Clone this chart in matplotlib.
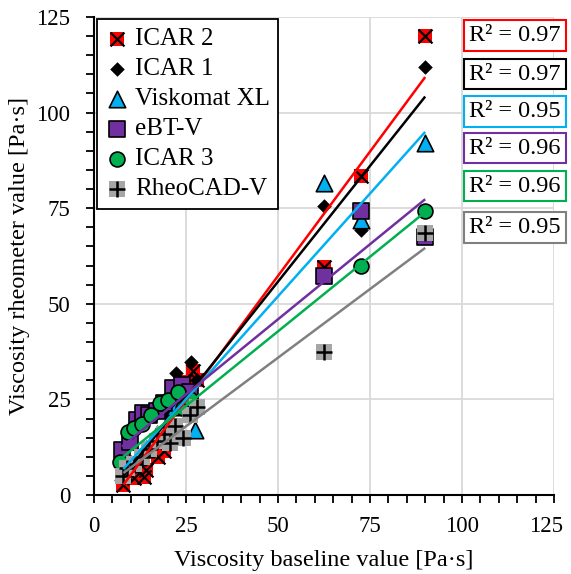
import matplotlib
matplotlib.use("Agg")
import matplotlib.pyplot as plt
import matplotlib.transforms as mtransforms
import numpy as np

plt.rcParams['font.family'] = ['Liberation Serif', 'DejaVu Serif']

# ---- data ----
names = ["ICAR 2", "ICAR 1", "Viskomat XL", "eBT-V", "ICAR 3", "RheoCAD-V"]

icar2_x = [8, 11, 13.5, 14, 17.5, 19, 21.5, 24.5, 26, 27, 28, 62.5, 72.5, 90]
icar2_y = [2.6, 4.4, 4.8, 6.5, 10, 11.5, 15, 29.5, 27, 32.5, 30, 59.5, 83.5, 120]

icar1_x = [8, 10, 12, 14, 17, 20, 22.3, 24, 26.4, 28, 62.5, 72.5, 90]
icar1_y = [5, 7, 9, 12, 16, 21, 31.9, 26, 34.8, 30, 75.6, 69.3, 112]

visko_x = [8, 10, 12, 14, 17, 20, 22, 25, 27.5, 62.5, 72.5, 90]
visko_y = [6, 8, 10, 12, 16, 19, 23, 27, 17, 81.6, 71.9, 92]

ebt_x = [7.6, 9.8, 11.6, 13.4, 15, 17, 19, 21.5, 23.9, 26, 62.5, 72.5, 90]
ebt_y = [11.8, 13.9, 19.6, 21.4, 21, 22, 24, 28, 28.8, 27, 57.3, 74.3, 67.5]

icar3_x = [7.1, 9.3, 11, 13, 15.5, 17.9, 20.1, 21.5, 22.8, 24.2, 26, 72.5, 90]
icar3_y = [8.6, 16.5, 17.5, 18.5, 21, 24, 24.8, 16.5, 27, 22.7, 25, 59.9, 74.3]

rheo_x = [8, 9, 11, 13, 15, 17, 19, 20.7, 22, 24.2, 26, 28, 62.5, 90]
rheo_y = [5, 7, 8, 10, 12, 14, 16, 13.6, 18, 14.9, 21, 23, 37.4, 68.5]

# linear trendlines (slope, intercept)
trend_slope = [1.30, 1.21, 1.075, 0.785, 0.78, 0.718]
trend_icept = [-7.7, -4.7, -1.8, 6.7, 3.8, 0.0]
r2_labels = ["0.97", "0.97", "0.95", "0.96", "0.96", "0.95"]

xs = [icar2_x, icar1_x, visko_x, ebt_x, icar3_x, rheo_x]
ys = [icar2_y, icar1_y, visko_y, ebt_y, icar3_y, rheo_y]
colors = ["#ff0000", "#000000", "#00b0f0", "#7030a0", "#00b050", "#808080"]

fig = plt.figure(figsize=(5.71, 5.74), dpi=100)
ax = fig.add_axes([94/571, 1-495/574, (554-94)/571, (495-17)/574])

handles = []
# ICAR 2: red square with black x
h1 = ax.scatter(icar2_x, icar2_y, marker='s', s=115, c='#ff0000', linewidths=0, zorder=3)
h1b = ax.scatter(icar2_x, icar2_y, marker='x', s=100, c='black', linewidths=1.6, zorder=3.1)
handles.append((h1, h1b))
# ICAR 1: black diamond
h2 = ax.scatter(icar1_x, icar1_y, marker='D', s=55, c='black', linewidths=0, zorder=3.2)
handles.append(h2)
# Viskomat XL: cyan triangle
h3 = ax.scatter(visko_x, visko_y, marker='^', s=140, c='#00b0f0', edgecolors='black', linewidths=1.2, zorder=3.3)
handles.append(h3)
# eBT-V: purple square
h4 = ax.scatter(ebt_x, ebt_y, marker='s', s=120, c='#7030a0', edgecolors='black', linewidths=1.2, zorder=3.4)
handles.append(h4)
# ICAR 3: green circle
h5 = ax.scatter(icar3_x, icar3_y, marker='o', s=115, c='#00b050', edgecolors='black', linewidths=1.2, zorder=3.5)
handles.append(h5)
# RheoCAD-V: gray square with black plus
h6 = ax.scatter(rheo_x, rheo_y, marker='s', s=120, c='#a6a6a6', linewidths=0, zorder=3.6)
h6b = ax.scatter(rheo_x, rheo_y, marker='+', s=120, c='black', linewidths=1.8, zorder=3.7)
handles.append((h6, h6b))

# trendlines
for x, m, b, col in zip(xs, trend_slope, trend_icept, colors):
    xx = np.array([min(x), max(x)])
    ax.plot(xx, m * xx + b, color=col, lw=1.8, zorder=4, solid_capstyle='butt')

ax.set_xlim(0, 125)
ax.set_ylim(0, 125)
ticks = [0, 25, 50, 75, 100, 125]
ax.set_xticks(ticks)
ax.set_yticks(ticks)
ax.set_xticks(np.arange(0, 126, 5), minor=True)
ax.set_yticks(np.arange(0, 126, 5), minor=True)
ax.grid(True, which='major', color='#d9d9d9', lw=1.3, zorder=0)
ax.set_axisbelow(True)
for s in ['top', 'right']:
    ax.spines[s].set_visible(False)
for s in ['left', 'bottom']:
    ax.spines[s].set_linewidth(1.5)
ax.tick_params(which='both', direction='out', width=1.3, labelsize=16.5, length=6)
ax.tick_params(axis='x', which='major', pad=9)
ax.tick_params(axis='y', which='major', pad=11)

# shift the last x tick label left so it stays inside the figure
lab125 = ax.xaxis.get_major_ticks()[-1].label1
lab125.set_transform(lab125.get_transform() +
                     mtransforms.ScaledTranslation(-6/72, 0, fig.dpi_scale_trans))

ax.set_xlabel("Viscosity baseline value [Pa·s]", fontsize=17.5, labelpad=9.5)
ax.set_ylabel("Viscosity rheometer value [Pa·s]", fontsize=17.5)
ax.yaxis.set_label_coords(-0.139, 0.5)

leg = ax.legend(handles, names, loc='upper left', bbox_to_anchor=(0.007, 0.996),
                fontsize=18, frameon=True, fancybox=False, framealpha=1,
                edgecolor='black', handlelength=0.9, handletextpad=0.25,
                borderpad=0.35, labelspacing=0.3, borderaxespad=0.0)
leg.get_frame().set_linewidth(1.3)
leg.set_zorder(10)

# R² boxes
r2_y = [35.5, 74, 111.5, 148, 186, 227.5]
for lab, col, yp in zip(r2_labels, colors, r2_y):
    fig.text(515/571, 1 - yp/574, "R² = " + lab, fontsize=17.5, ha='center', va='center',
             bbox=dict(boxstyle='square,pad=0.2', fc='white', ec=col, lw=1.5), zorder=11)

fig.savefig("out.png", dpi=100)
